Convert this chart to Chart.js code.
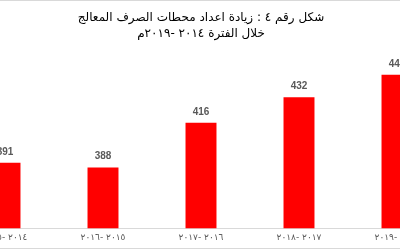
<!DOCTYPE html>
<html lang="ar">
<head>
<meta charset="utf-8">
<script src="https://cdn.jsdelivr.net/npm/chart.js@4/dist/chart.umd.min.js"></script>
<style>
  html, body { margin: 0; padding: 0; background: #fff; overflow: hidden; }
  body { width: 400px; height: 250px; position: relative; }
  /* the chart is wider than the window, the first and last bars are cut */
  .wrap {
    position: absolute; left: -44px; top: 0;
    width: 490px; height: 249px; box-sizing: border-box;
    border-top: 1px solid #d9d9d9; border-bottom: 1px solid #d9d9d9;
  }
</style>
</head>
<body>
<div class="wrap"><canvas id="chart" dir="rtl"></canvas></div>
<script>
// Periods (left to right) and station counts
const periods = ['٢٠١٤ -٢٠١٥', '٢٠١٥ -٢٠١٦', '٢٠١٦ -٢٠١٧', '٢٠١٧ -٢٠١٨', '٢٠١٨ -٢٠١٩'];
const stations = [391, 388, 416, 432, 446];
const titleLines = ['شكل رقم ٤ : زيادة اعداد محطات الصرف المعالج', 'خلال الفترة ٢٠١٤ -٢٠١٩م'];

// Print each value above its bar
const valueLabels = {
  id: 'valueLabels',
  afterDatasetsDraw(chart) {
    const ctx = chart.ctx;
    const meta = chart.getDatasetMeta(0);
    ctx.save();
    ctx.font = 'bold 10px "Liberation Sans", Arial, sans-serif';
    ctx.fillStyle = '#595959';
    ctx.textAlign = 'center';
    ctx.textBaseline = 'alphabetic';
    meta.data.forEach((bar, i) => {
      ctx.fillText(String(stations[i]), bar.x, bar.y - 8);
    });
    ctx.restore();
  }
};

new Chart(document.getElementById('chart'), {
  type: 'bar',
  plugins: [valueLabels],
  data: {
    labels: periods,
    datasets: [{
      data: stations,
      backgroundColor: '#ff0000',
      borderWidth: 0,
      barPercentage: 0.316,
      categoryPercentage: 1,
    }],
  },
  options: {
    responsive: true,
    maintainAspectRatio: false,
    animation: false,
    layout: { padding: { top: 0, left: 0, right: 0, bottom: 1 } },
    plugins: {
      legend: { display: false },
      tooltip: { enabled: false },
      title: {
        display: true,
        text: titleLines,
        color: '#000000',
        font: { size: 12, family: '"DejaVu Sans", sans-serif', weight: 'normal', lineHeight: 1.35 },
        padding: { top: 9, bottom: 26 },
      },
    },
    scales: {
      x: {
        offset: true,
        grid: { display: false, drawTicks: false },
        border: { display: true, color: '#d9d9d9', width: 1 },
        ticks: {
          color: '#595959',
          padding: 4,
          maxRotation: 0,
          autoSkip: false,
          font: { size: 9, family: '"DejaVu Sans", sans-serif' },
        },
      },
      y: {
        display: false,
        min: 350,
        max: 450,
      },
    },
  },
});
</script>
</body>
</html>
